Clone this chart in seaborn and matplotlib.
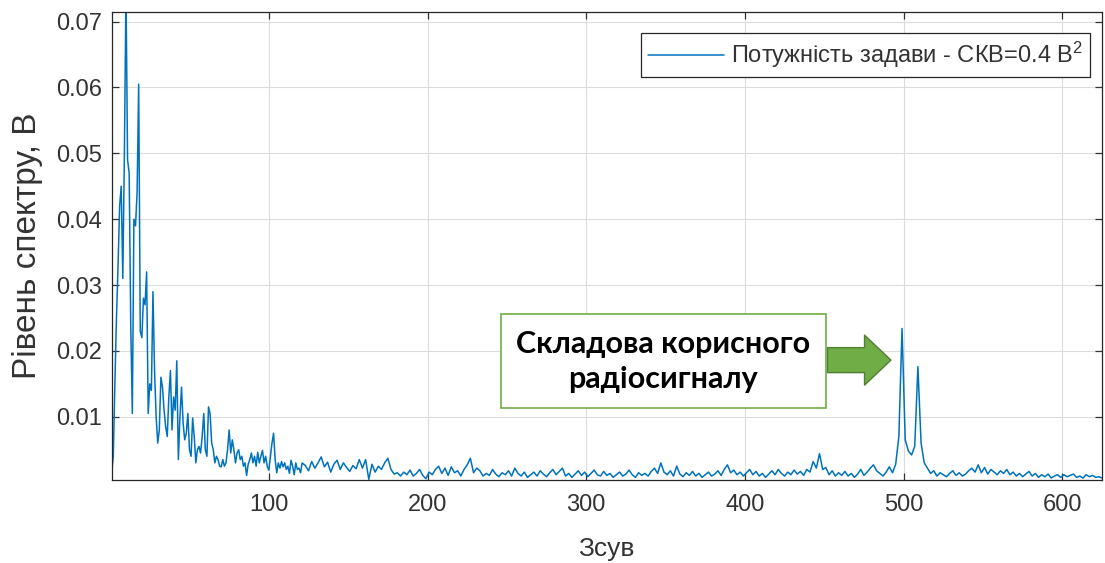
import numpy as np
import pandas as pd
import matplotlib
matplotlib.use("Agg")
import matplotlib.pyplot as plt
import seaborn as sns

# Spectrum level (mV) for shifts 1..121, step 1
level_head_mv = [
    1.5, 4, 15, 25, 33, 42, 45, 31, 50, 75,
    49, 47, 24, 10.5, 40, 39, 44, 60.5, 23, 22,
    28, 27, 32, 10.5, 15, 14, 29, 17, 10, 6,
    8, 16, 14.5, 11, 8.5, 7, 13, 17, 8, 13,
    11, 18.5, 3.5, 10, 14.5, 9, 6.5, 7.5, 10.5, 5,
    4, 9.8, 7, 3, 5, 5.5, 4.5, 7, 10.5, 5,
    4, 11.5, 10.5, 6, 5, 3, 4, 3.5, 2.5, 2.4,
    3.5, 2.5, 3, 5, 8, 4.5, 6.5, 5, 3, 4.5,
    5, 3.5, 4, 2.5, 3, 1.1, 2.8, 3.5, 4.5, 3,
    4, 2.5, 4.6, 3, 4, 4.9, 3, 4, 2.5, 1.9,
    4, 6, 7.5, 3.5, 1.5, 3, 2.2, 3.2, 2.4, 3,
    2, 2.5, 1.4, 3.4, 2.5, 1.2, 3, 2, 2.2, 1.5,
    3,
]

# Spectrum level (mV) for shifts 123..625, step 2
level_tail_mv = [
    2.6, 1.8, 3.2, 2.2, 3.0, 3.9, 2.4, 3.1, 1.6, 2.8,
    3.4, 2.0, 3.0, 2.3, 1.7, 2.6, 2.1, 3.5, 2.2, 3.5,
    0.5, 2.8, 1.6, 2.5, 2.0, 3.0, 3.7, 2.0, 1.3, 1.5,
    1.0, 1.6, 1.2, 1.9, 1.0, 1.4, 2.0, 1.1, 0.6, 1.6,
    1.2, 2.0, 2.5, 1.4, 2.2, 1.1, 2.4, 1.5, 1.8, 1.0,
    2.0, 2.7, 3.7, 1.5, 2.2, 1.8, 1.0, 1.4, 1.1, 2.0,
    1.3, 0.9, 1.5, 1.2, 1.8, 1.0, 2.2, 1.4, 1.0, 1.6,
    0.8, 1.2, 1.6, 1.0, 1.8, 1.3, 0.9, 1.5, 2.0, 1.2,
    1.7, 2.2, 1.0, 1.4, 0.8, 1.3, 1.8, 1.1, 1.6, 0.9,
    1.4, 1.9, 1.2, 1.0, 1.7, 1.1, 1.4, 0.8, 1.2, 1.6,
    1.0, 1.3, 1.9, 1.2, 0.8, 1.5, 1.1, 1.4, 1.0, 1.7,
    2.2, 1.4, 3.0, 1.6, 1.2, 1.8, 1.0, 2.5, 1.3, 0.9,
    1.5, 1.1, 1.7, 1.0, 1.4, 0.8, 1.2, 1.6, 1.0, 1.3,
    1.8, 1.1, 2.0, 2.7, 1.5, 1.9, 1.2, 1.6, 1.0, 1.5,
    2.0, 1.2, 1.7, 1.0, 1.4, 0.8, 1.3, 1.8, 1.2, 2.0,
    1.4, 1.0, 1.6, 1.2, 1.9, 1.3, 1.7, 1.1, 2.0, 1.6,
    3.2, 2.2, 4.4, 2.0, 2.3, 1.2, 1.8, 1.0, 1.5, 1.1,
    1.7, 1.0, 1.4, 0.8, 1.3, 2.0, 1.1, 1.6, 2.2, 2.7,
    1.8, 1.4, 1.0, 1.6, 2.4, 1.5, 2.8, 7.0, 23.4, 6.5,
    4.8, 4.2, 5.5, 17.6, 6.0, 3.0, 2.2, 1.4, 1.8, 1.0,
    1.5, 1.2, 0.9, 1.4, 1.8, 1.1, 1.5, 1.0, 1.3, 1.8,
    2.2, 1.6, 2.7, 1.5, 2.3, 1.3, 2.0, 1.6, 1.2, 1.8,
    1.4, 2.0, 1.2, 1.6, 1.0, 1.4, 0.9, 1.3, 1.7, 1.0,
    1.4, 0.8, 1.2, 0.9, 1.3, 0.7, 1.0, 1.2, 0.8, 1.2,
    0.9, 1.1, 1.3, 0.8, 1.0, 0.7, 1.2, 0.9, 1.1, 0.8,
    0.9, 0.7,
]

shift_head = np.arange(1, 1 + len(level_head_mv))
shift_tail = np.arange(123, 123 + 2 * len(level_tail_mv), 2)

x_ticks = [100, 200, 300, 400, 500, 600]
y_ticks = [0.01, 0.02, 0.03, 0.04, 0.05, 0.06, 0.07]

legend_label = "Потужність задави - СКВ=0.4 В$^{2}$"
note_text = "Складова корисного\nрадіосигналу"

df = pd.DataFrame({
    "shift": np.concatenate([shift_head, shift_tail]),
    "level": np.concatenate([level_head_mv, level_tail_mv]) / 1000.0,
})

sns.set_theme(style="white")
plt.rcParams["font.family"] = ["Liberation Sans", "DejaVu Sans"]
plt.rcParams["mathtext.fontset"] = "custom"
plt.rcParams["mathtext.rm"] = "Liberation Sans"
plt.rcParams["mathtext.it"] = "Liberation Sans"

W, H = 1105, 563
fig = plt.figure(figsize=(W / 100, H / 100), dpi=100)
ax = fig.add_axes([111.7 / W, 1 - 480 / H, (1102 - 111.7) / W, (480 - 11.7) / H])

text_col = "#333333"
line_col = "#0072BD"

sns.lineplot(data=df, x="shift", y="level", ax=ax, color=line_col,
             linewidth=1.1, label=legend_label, estimator=None)

ax.set_xlim(1, 625)
ax.set_ylim(0.0004, 0.0715)
ax.set_xticks(x_ticks)
ax.set_yticks(y_ticks)
ax.set_xticklabels([str(v) for v in x_ticks])
ax.set_yticklabels([f"{v:.2f}" for v in y_ticks])

ax.grid(True, color="#dcdcdc", linewidth=0.8)
ax.set_axisbelow(True)
for s in ax.spines.values():
    s.set_color("#262626")
    s.set_linewidth(0.9)
ax.tick_params(direction="in", length=5, width=0.9, colors=text_col,
               labelsize=17, top=True, right=True, bottom=True, left=True,
               labeltop=False, labelright=False)
ax.tick_params(axis="x", pad=10)
ax.tick_params(axis="y", pad=7)

ax.set_xlabel("Зсув", fontsize=19, color=text_col, labelpad=15)
ax.set_ylabel("Рівень спектру, В", fontsize=24, color=text_col, labelpad=9)

leg = ax.legend(loc="upper right", bbox_to_anchor=(0.988, 0.955),
                borderaxespad=0, fontsize=17, handlelength=3.2,
                frameon=True, fancybox=False, framealpha=1,
                edgecolor="#262626", borderpad=0.3, handletextpad=0.3)
leg.get_frame().set_linewidth(0.9)
for t in leg.get_texts():
    t.set_color(text_col)

# Callout pointing at the useful radio-signal component
green = "#70AD47"
ax.annotate("", xy=(492, 0.0186), xytext=(452, 0.0186),
            arrowprops=dict(arrowstyle="simple,head_length=0.95,head_width=1.8,tail_width=0.9",
                            fc=green, ec="#507E32", lw=1.0, mutation_scale=20,
                            shrinkA=0, shrinkB=0))
ax.text(348.5, 0.01845, note_text, ha="center", va="center",
        fontsize=22, fontweight="bold", family=["Lato", "Open Sans", "DejaVu Sans"],
        color="black", linespacing=1.3,
        bbox=dict(boxstyle="square,pad=0.5", fc="white", ec=green, lw=1.2))

fig.savefig("out.png", dpi=100)
